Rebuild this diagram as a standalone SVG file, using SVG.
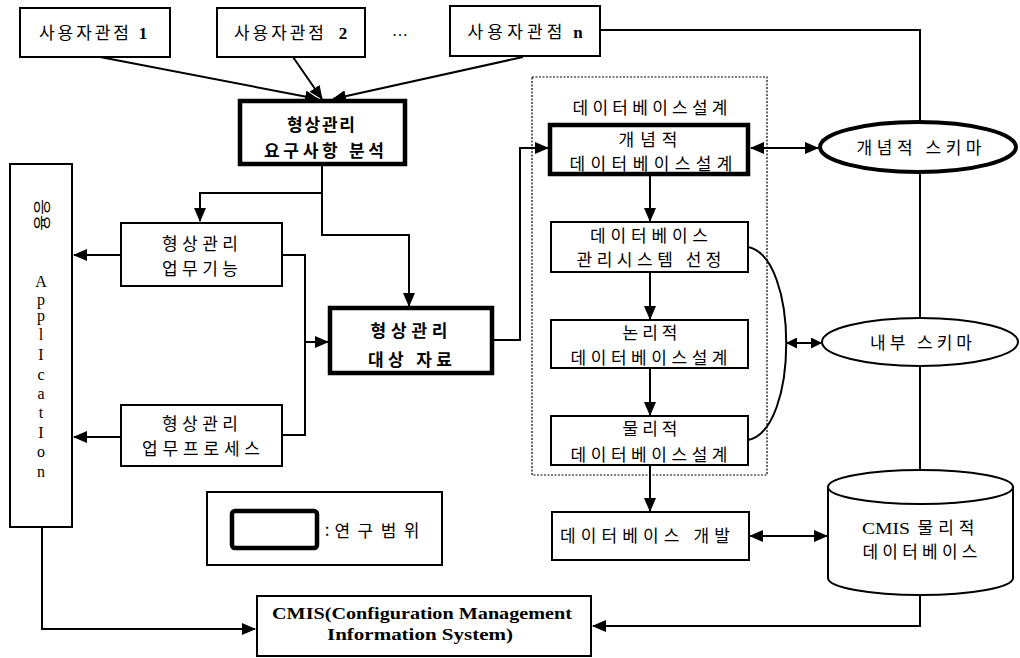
<svg xmlns="http://www.w3.org/2000/svg" width="1020" height="658" viewBox="0 0 1020 658">
<style>
.box{fill:#fff;stroke:#000;stroke-width:2}
.thick{fill:#fff;stroke:#000;stroke-width:4.5}
.ell{fill:#fff;stroke:#000;stroke-width:2}
.conn{fill:none;stroke:#000;stroke-width:2}
.k{font-family:"Noto Sans CJK KR","Noto Sans",sans-serif;font-size:17px;text-anchor:middle;fill:#000}
.kb{font-weight:bold}
.s{font-family:"Liberation Serif",serif;font-size:16px;text-anchor:middle;fill:#000}
.sb{font-family:"Liberation Serif",serif;font-size:17px;font-weight:bold;text-anchor:middle;fill:#000}
</style>
<defs>
<marker id="ah" markerWidth="14" markerHeight="12" refX="13" refY="6" orient="auto-start-reverse" markerUnits="userSpaceOnUse">
<path d="M0,0 L14,6 L0,12 Z" fill="#000"/>
</marker>
<marker id="ahs" markerWidth="11" markerHeight="11" refX="10" refY="5.5" orient="auto-start-reverse" markerUnits="userSpaceOnUse">
<path d="M0,0 L11,5.5 L0,11 Z" fill="#000"/>
</marker>
</defs>
<rect width="1020" height="658" fill="#fff"/>

<g id="connectors">
<line class="conn" x1="100" y1="57" x2="318" y2="99" marker-end="url(#ah)"/>
<line class="conn" x1="293" y1="57" x2="322" y2="99" marker-end="url(#ah)"/>
<line class="conn" x1="523" y1="57" x2="333" y2="99" marker-end="url(#ah)"/>
<polyline class="conn" points="322,165 322,235 409,235 409,306" marker-end="url(#ah)"/>
<polyline class="conn" points="322,193 200,193 200,221" marker-end="url(#ah)"/>
<line class="conn" x1="121" y1="255" x2="74" y2="255" marker-end="url(#ah)"/>
<line class="conn" x1="121" y1="437" x2="74" y2="437" marker-end="url(#ah)"/>
<polyline class="conn" points="282,255 305,255 305,435 282,435"/>
<line class="conn" x1="305" y1="342" x2="328" y2="342" marker-end="url(#ah)"/>
<polyline class="conn" points="492,340 520,340 520,148 548,148" marker-end="url(#ah)"/>
<line class="conn" x1="650" y1="176" x2="650" y2="221" marker-end="url(#ah)"/>
<line class="conn" x1="650" y1="272" x2="650" y2="319" marker-end="url(#ah)"/>
<line class="conn" x1="650" y1="368" x2="650" y2="415" marker-end="url(#ah)"/>
<line class="conn" x1="650" y1="465" x2="650" y2="511" marker-end="url(#ah)"/>
<line class="conn" x1="751" y1="148" x2="818" y2="148" marker-start="url(#ah)" marker-end="url(#ah)"/>
<line class="conn" x1="750" y1="536" x2="827" y2="536" marker-start="url(#ah)" marker-end="url(#ah)"/>
<line class="conn" x1="787" y1="343" x2="821" y2="343" marker-start="url(#ahs)" marker-end="url(#ahs)"/>
<path class="conn" d="M748,247 C799,257 799,430 748,440"/>
<polyline class="conn" points="600,30 920,30 920,122"/>
<line class="conn" x1="920" y1="172" x2="920" y2="318"/>
<line class="conn" x1="920" y1="366" x2="920" y2="470"/>
<polyline class="conn" points="920,595 920,626 593,626" marker-end="url(#ah)"/>
<polyline class="conn" points="42,527 42,629 255,629" marker-end="url(#ah)"/>
</g>

<g id="dbdesign-area">
<rect x="532" y="77" width="235" height="398" fill="none" stroke="#000" stroke-width="1.2" stroke-dasharray="2,1.5"/>
<text class="k" x="650" y="114" textLength="155" lengthAdjust="spacing">데이터베이스설계</text>
</g>

<g id="view1">
<rect class="box" x="20" y="8" width="150" height="49"/>
<text class="k" x="84" y="39" textLength="90" lengthAdjust="spacing">사용자관점</text>
<text class="sb" x="143" y="39">1</text>
</g>
<g id="view2">
<rect class="box" x="217" y="8" width="148" height="49"/>
<text class="k" x="279" y="39" textLength="90" lengthAdjust="spacing">사용자관점</text>
<text class="sb" x="343" y="39">2</text>
</g>
<g id="ellipsis">
<text class="s" x="400" y="36" font-size="14">…</text>
</g>
<g id="viewn">
<rect class="box" x="450" y="6" width="150" height="50"/>
<text class="k" x="515" y="38" textLength="95" lengthAdjust="spacing">사용자관점</text>
<text class="sb" x="578" y="38">n</text>
</g>

<g id="requirements">
<rect class="thick" x="240" y="101" width="165" height="63"/>
<text class="k kb" x="321" y="131" textLength="68" lengthAdjust="spacing">형상관리</text>
<text class="k kb" x="324" y="157" textLength="120" lengthAdjust="spacing">요구사항 분석</text>
</g>

<g id="application">
<rect class="box" x="10" y="164" width="62" height="363"/>
<text class="k" transform="translate(41,215) rotate(90)" y="5" font-size="15">응용</text>
<text class="s" x="41" y="287">A</text>
<text class="s" x="41" y="305">p</text>
<text class="s" x="41" y="321">p</text>
<text class="s" x="41" y="340">l</text>
<text class="s" x="41" y="360">I</text>
<text class="s" x="41" y="380">c</text>
<text class="s" x="41" y="399">a</text>
<text class="s" x="41" y="418">t</text>
<text class="s" x="41" y="438">I</text>
<text class="s" x="41" y="457">o</text>
<text class="s" x="41" y="477">n</text>
</g>

<g id="function">
<rect class="box" x="121" y="223" width="161" height="63"/>
<text class="k" x="200" y="250" textLength="76" lengthAdjust="spacing">형상관리</text>
<text class="k" x="200" y="275" textLength="76" lengthAdjust="spacing">업무기능</text>
</g>

<g id="process">
<rect class="box" x="121" y="405" width="161" height="61"/>
<text class="k" x="200" y="430" textLength="76" lengthAdjust="spacing">형상관리</text>
<text class="k" x="201" y="455" textLength="118" lengthAdjust="spacing">업무프로세스</text>
</g>

<g id="target-data">
<rect class="thick" x="330" y="308" width="162" height="65"/>
<text class="k kb" x="409" y="337" textLength="77" lengthAdjust="spacing">형상관리</text>
<text class="k kb" x="410" y="366" textLength="84" lengthAdjust="spacing">대상 자료</text>
</g>

<g id="conceptual-design">
<rect class="thick" x="550" y="125" width="198" height="49"/>
<text class="k" x="648" y="146" textLength="59" lengthAdjust="spacing">개념적</text>
<text class="k" x="651" y="170" textLength="163" lengthAdjust="spacing">데이터베이스설계</text>
</g>

<g id="dbms-select">
<rect class="box" x="551" y="222" width="197" height="50"/>
<text class="k" x="649" y="242" textLength="118" lengthAdjust="spacing">데이터베이스</text>
<text class="k" x="649" y="266" textLength="145" lengthAdjust="spacing">관리시스템 선정</text>
</g>

<g id="logical-design">
<rect class="box" x="551" y="320" width="197" height="48"/>
<text class="k" x="650" y="339" textLength="55" lengthAdjust="spacing">논리적</text>
<text class="k" x="649" y="364" textLength="157" lengthAdjust="spacing">데이터베이스설계</text>
</g>

<g id="physical-design">
<rect class="box" x="551" y="416" width="197" height="49"/>
<text class="k" x="650" y="435" textLength="55" lengthAdjust="spacing">물리적</text>
<text class="k" x="649" y="461" textLength="157" lengthAdjust="spacing">데이터베이스설계</text>
</g>

<g id="db-develop">
<rect class="box" x="552" y="512" width="197" height="48"/>
<text class="k" x="645" y="542" textLength="170" lengthAdjust="spacing">데이터베이스 개발</text>
</g>

<g id="conceptual-schema">
<ellipse cx="918" cy="147" rx="98" ry="25" fill="#fff" stroke="#000" stroke-width="4"/>
<text class="k" x="919" y="154" textLength="125" lengthAdjust="spacing">개념적 스키마</text>
</g>

<g id="internal-schema">
<ellipse class="ell" cx="920" cy="342" rx="98" ry="24"/>
<text class="k" x="921" y="349" textLength="102" lengthAdjust="spacing">내부 스키마</text>
</g>

<g id="cmis-db">
<path class="box" d="M828,487 L828,578 A92.5,17 0 0 0 1013,578 L1013,487"/>
<ellipse class="box" cx="920.5" cy="487" rx="92.5" ry="17"/>
<text class="s" x="886" y="534" font-size="17" textLength="48" lengthAdjust="spacingAndGlyphs">CMIS</text>
<text class="k" x="946" y="534" textLength="57" lengthAdjust="spacing">물리적</text>
<text class="k" x="920" y="558" textLength="115" lengthAdjust="spacing">데이터베이스</text>
</g>

<g id="legend">
<rect class="box" x="207" y="492" width="235" height="73"/>
<rect x="232" y="511" width="85" height="37" rx="3" fill="#fff" stroke="#000" stroke-width="4.5"/>
<text class="k" x="327" y="536">:</text>
<text class="k" x="377" y="537" textLength="85" lengthAdjust="spacing">연구범위</text>
</g>

<g id="cmis">
<rect class="box" x="257" y="596" width="334" height="60"/>
<text class="sb" x="422" y="619" textLength="300" lengthAdjust="spacingAndGlyphs">CMIS(Configuration Management</text>
<text class="sb" x="420" y="640" textLength="186" lengthAdjust="spacingAndGlyphs">Information System)</text>
</g>
</svg>
